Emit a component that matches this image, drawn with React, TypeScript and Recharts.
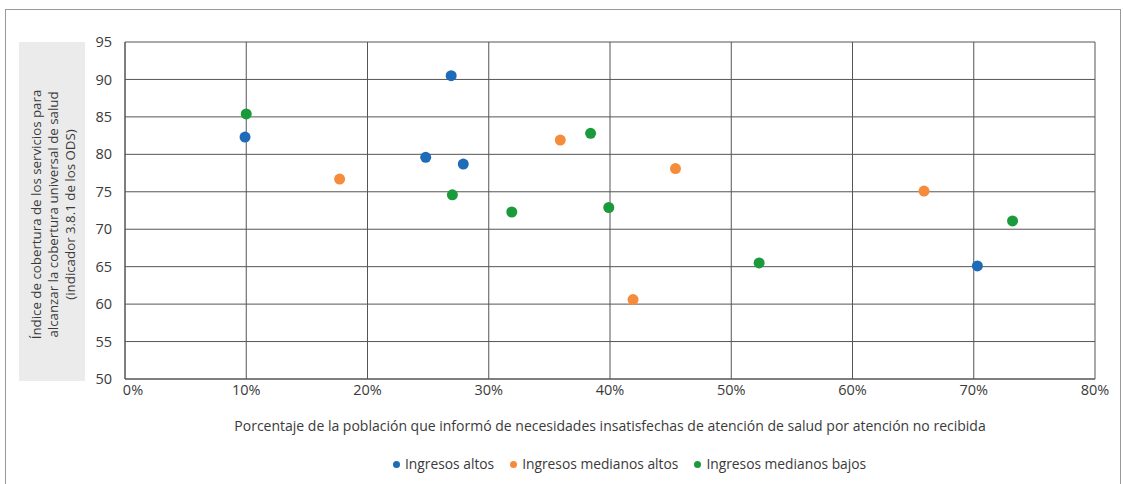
import React from "react";
import {
  ScatterChart,
  Scatter,
  XAxis,
  YAxis,
  CartesianGrid,
} from "recharts";

const altosX = [9.9, 26.9, 24.8, 27.9, 70.3];
const altosY = [82.3, 90.5, 79.6, 78.7, 65.1];
const medAltosX = [17.7, 35.9, 45.4, 41.9, 65.9];
const medAltosY = [76.7, 81.9, 78.1, 60.6, 75.1];
const medBajosX = [10.0, 38.4, 27.0, 31.9, 39.9, 52.3, 73.2];
const medBajosY = [85.4, 82.8, 74.6, 72.3, 72.9, 65.5, 71.1];

const xTicks = [0, 10, 20, 30, 40, 50, 60, 70, 80];
const yTicks = [50, 55, 60, 65, 70, 75, 80, 85, 90, 95];

const seriesNames = ["Ingresos altos", "Ingresos medianos altos", "Ingresos medianos bajos"];
const COLORS = ["#1e6bb8", "#f58b3b", "#1b9a3c"];

const yLabelLines = [
  "Índice de cobertura de los servicios para",
  "alcanzar la cobertura universal de salud",
  "(indicador 3.8.1 de los ODS)",
];
const xTitle =
  "Porcentaje de la población que informó de necesidades insatisfechas de atención de salud por atención no recibida";

const FONT = "'Open Sans', sans-serif";
const TEXT = "#3a3a3a";

const toPoints = (xs: number[], ys: number[]) => xs.map((x, i) => ({ x, y: ys[i] }));

const series = [
  toPoints(altosX, altosY),
  toPoints(medAltosX, medAltosY),
  toPoints(medBajosX, medBajosY),
];

const dot = (color: string) => (props: any) =>
  <circle cx={props.cx} cy={props.cy} r={5.5} fill={color} />;

function XTick(props: any) {
  const { x, y, payload } = props;
  const shift = payload.value === 0 ? 8 : 0;
  return (
    <text x={x + shift} y={y} dy="0.71em" textAnchor="middle" fontSize={14.5} fill={TEXT} fontFamily={FONT}>
      {`${payload.value}%`}
    </text>
  );
}

function YLabel(props: any) {
  const vb = props.viewBox;
  const boxX = vb.x - 66;
  const cx = boxX + 34;
  const cy = vb.y + vb.height / 2 + 4;
  return (
    <g>
      <rect x={boxX} y={vb.y} width={66} height={vb.height + 2} fill="#ebebeb" />
      {yLabelLines.map((line, i) => (
        <text
          key={i}
          x={cx + (i - 1) * 17}
          y={cy}
          transform={`rotate(-90 ${cx + (i - 1) * 17} ${cy})`}
          textAnchor="middle"
          dominantBaseline="central"
          fontSize={13.3}
          fill={TEXT}
          fontFamily={FONT}
        >
          {line}
        </text>
      ))}
    </g>
  );
}

function ChartLegend() {
  return (
    <div
      style={{
        position: "absolute",
        top: 455,
        left: 393,
        display: "flex",
        gap: 16,
        fontFamily: FONT,
        fontSize: 13.8,
        color: TEXT,
        lineHeight: "18px",
      }}
    >
      {seriesNames.map((n, i) => (
        <div key={n} style={{ display: "flex", alignItems: "center" }}>
          <span
            style={{
              display: "inline-block",
              width: 7,
              height: 7,
              borderRadius: "50%",
              background: COLORS[i],
              marginRight: 5,
            }}
          />
          {n}
        </div>
      ))}
    </div>
  );
}

export default function App() {
  return (
    <div style={{ position: "absolute", left: 0, top: 0, width: 1123, height: 484, background: "#fff", overflow: "hidden" }}>
      <div
        style={{
          position: "absolute",
          left: 5,
          top: 9,
          width: 1114,
          height: 520,
          border: "1px solid #999",
        }}
      />
      <div style={{ position: "absolute", left: 0, top: 0 }}>
        <ScatterChart width={1123} height={484} margin={{ top: 42, right: 28, bottom: 50, left: 85 }}>
          <CartesianGrid stroke="#555" strokeWidth={1} horizontalValues={yTicks} verticalValues={xTicks} />
          <XAxis
            type="number"
            dataKey="x"
            domain={[0, 80]}
            ticks={xTicks}
            tick={<XTick />}
            tickLine={false}
            tickMargin={0}
            axisLine={{ stroke: "#555" }}
            height={55}
            label={{
              value: xTitle,
              position: "insideBottom",
              offset: 3,
              fontSize: 14,
              fill: TEXT,
              fontFamily: FONT,
            }}
          />
          <YAxis
            type="number"
            dataKey="y"
            domain={[50, 95]}
            ticks={yTicks}
            width={40}
            tickLine={false}
            tickMargin={7}
            axisLine={{ stroke: "#555" }}
            tick={{ fontSize: 14.5, fill: TEXT, fontFamily: FONT }}
            label={{ content: <YLabel /> }}
          />
          {series.map((d, i) => (
            <Scatter
              key={seriesNames[i]}
              name={seriesNames[i]}
              data={d}
              fill={COLORS[i]}
              shape={dot(COLORS[i])}
              isAnimationActive={false}
            />
          ))}
        </ScatterChart>
      </div>
      <ChartLegend />
    </div>
  );
}
